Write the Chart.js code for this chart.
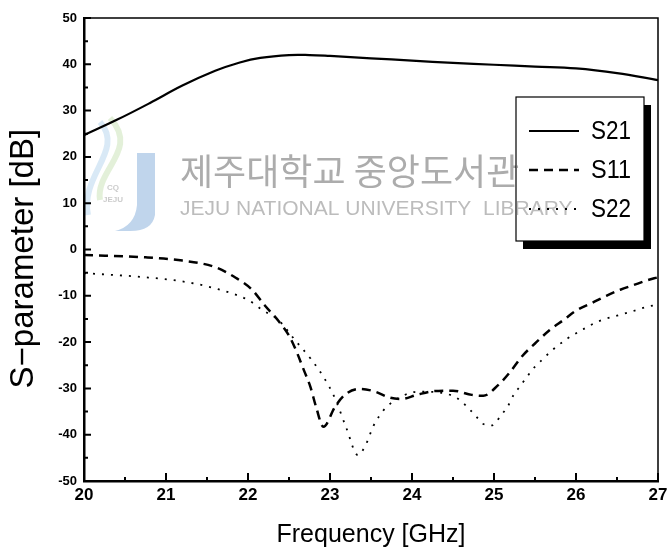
<!DOCTYPE html>
<html>
<head>
<meta charset="utf-8">
<script src="https://cdn.jsdelivr.net/npm/chart.js@4"></script>
<style>
  html, body { margin: 0; padding: 0; background: #fff; }
  canvas { display: block; }
</style>
</head>
<body>
<canvas id="chart" width="672" height="553"></canvas>
<script>
// S21 (dB) - сплошная
const s21Freq = [20.0, 20.4, 20.8, 21.2, 21.6, 21.9, 22.15, 22.5, 22.75, 23.0, 23.5, 24.0, 24.5, 25.0, 25.5, 26.0, 26.5, 27.0];
const s21Val  = [24.7, 28.0, 31.6, 35.4, 38.6, 40.4, 41.4, 42.0, 42.0, 41.8, 41.3, 40.8, 40.3, 39.9, 39.5, 39.1, 38.1, 36.6];

// S11 (dB) - пунктир
const s11Freq = [20.0, 20.75, 21.2, 21.6, 21.85, 22.05, 22.2, 22.37, 22.5, 22.6, 22.68, 22.76, 22.83, 22.92, 23.06, 23.18, 23.37, 23.55, 23.73, 23.87, 24.06, 24.26, 24.5, 24.73, 24.87, 25.05, 25.19, 25.34, 25.5, 25.68, 25.85, 26.0, 26.2, 26.37, 26.54, 26.7, 26.86, 27.0];
const s11Val  = [-1.2, -1.7, -2.4, -3.8, -6.1, -8.7, -12.0, -15.4, -18.6, -22.4, -26.0, -29.6, -34.0, -38.3, -34.0, -31.4, -30.1, -30.7, -32.0, -32.3, -31.4, -30.6, -30.5, -31.4, -31.6, -29.3, -26.6, -23.1, -20.3, -17.4, -15.2, -13.2, -11.5, -10.0, -8.7, -7.7, -6.7, -6.0];

// S22 (dB) - точки
const s22Freq = [20.0, 20.75, 21.2, 21.6, 22.0, 22.18, 22.37, 22.57, 22.76, 22.92, 23.06, 23.2, 23.34, 23.43, 23.53, 23.6, 23.69, 23.89, 24.08, 24.3, 24.48, 24.59, 24.69, 24.78, 24.87, 24.97, 25.09, 25.17, 25.24, 25.32, 25.41, 25.5, 25.6, 25.7, 25.89, 26.09, 26.29, 26.5, 26.68, 26.86, 27.0];
const s22Val  = [-5.1, -6.0, -6.9, -8.4, -10.9, -13.1, -15.2, -19.5, -23.5, -27.5, -32.1, -38.6, -44.4, -42.4, -38.1, -36.0, -34.0, -31.6, -30.7, -30.8, -31.5, -32.6, -34.3, -36.0, -37.7, -38.0, -35.7, -33.8, -31.4, -29.5, -27.3, -25.3, -23.6, -21.9, -19.3, -17.2, -15.4, -14.3, -13.4, -12.4, -11.9];

const seriesNames = ['S21', 'S11', 'S22'];
const xTickLabels = [20, 21, 22, 23, 24, 25, 26, 27];
const yTickLabels = [-50, -40, -30, -20, -10, 0, 10, 20, 30, 40, 50];

function toPoints(xs, ys) {
  return xs.map((x, i) => ({ x: x, y: ys[i] }));
}

// рамка сверху/справа и внутренние засечки
const framePlugin = {
  id: 'frame',
  afterDatasetsDraw(chart) {
    const ctx = chart.ctx;
    const a = chart.chartArea;
    const xs = chart.scales.x, ys = chart.scales.y;
    ctx.save();
    ctx.strokeStyle = '#000';
    ctx.lineWidth = 1.5;
    ctx.beginPath();
    ctx.moveTo(a.left, a.top);
    ctx.lineTo(a.right, a.top);
    ctx.lineTo(a.right, a.bottom);
    ctx.stroke();
    ctx.lineWidth = 2;
    ctx.beginPath();
    xs.ticks.forEach(t => {
      const px = xs.getPixelForValue(t.value);
      const len = xTickLabels.includes(t.value) ? 8 : 4;
      ctx.moveTo(px, a.bottom);
      ctx.lineTo(px, a.bottom - len);
    });
    ys.ticks.forEach(t => {
      const py = ys.getPixelForValue(t.value);
      const len = yTickLabels.includes(t.value) ? 7 : 4;
      ctx.moveTo(a.left, py);
      ctx.lineTo(a.left + len, py);
    });
    ctx.stroke();
    ctx.restore();
  }
};

// легенда в рамке с тенью
const legendBoxPlugin = {
  id: 'legendBox',
  afterDatasetsDraw(chart) {
    const ctx = chart.ctx;
    const a = chart.chartArea;
    const left = a.right - 142, top = a.top + 79, w = 128, h = 144;
    ctx.save();
    ctx.fillStyle = '#000';
    ctx.fillRect(left + 7, top + 8, w, h);
    ctx.fillStyle = '#fff';
    ctx.fillRect(left, top, w, h);
    ctx.strokeStyle = '#000';
    ctx.lineWidth = 1.2;
    ctx.strokeRect(left, top, w, h);
    ctx.font = '25px "Liberation Sans", Arial, sans-serif';
    ctx.textBaseline = 'middle';
    ctx.fillStyle = '#000';
    chart.data.datasets.forEach((ds, i) => {
      const y = top + 34 + i * 39;
      ctx.lineWidth = ds.borderWidth;
      ctx.setLineDash(ds.borderDash || []);
      ctx.beginPath();
      ctx.moveTo(left + 13, y);
      ctx.lineTo(left + 63, y);
      ctx.stroke();
      ctx.setLineDash([]);
      ctx.fillText(ds.label, left + 75, y + 1, 40);
    });
    ctx.restore();
  }
};

// водяной знак библиотеки
const watermarkPlugin = {
  id: 'watermark',
  afterDraw(chart) {
    const ctx = chart.ctx;
    ctx.save();
    ctx.globalCompositeOperation = 'darken';
    // логотип
    ctx.lineWidth = 6;
    ctx.strokeStyle = 'rgba(200,225,180,0.5)';
    ctx.beginPath();
    ctx.moveTo(110, 118);
    ctx.bezierCurveTo(140, 150, 95, 170, 100, 200);
    ctx.stroke();
    ctx.strokeStyle = 'rgba(180,212,238,0.5)';
    ctx.beginPath();
    ctx.moveTo(100, 122);
    ctx.bezierCurveTo(125, 150, 80, 175, 88, 215);
    ctx.stroke();
    ctx.fillStyle = 'rgba(165,195,228,0.7)';
    ctx.beginPath();
    ctx.moveTo(137, 153);
    ctx.lineTo(155, 153);
    ctx.lineTo(155, 215);
    ctx.quadraticCurveTo(152, 232, 128, 231);
    ctx.lineTo(115, 231);
    ctx.quadraticCurveTo(135, 226, 137, 205);
    ctx.closePath();
    ctx.fill();
    ctx.fillStyle = 'rgba(190,190,190,0.8)';
    ctx.font = 'bold 8px "Liberation Sans", sans-serif';
    ctx.textAlign = 'center';
    ctx.fillText('CQ', 113, 190);
    ctx.fillText('JEJU', 113, 202);
    // текст
    ctx.textAlign = 'left';
    ctx.textBaseline = 'middle';
    ctx.fillStyle = '#acacac';
    ctx.font = '36px "Noto Sans CJK KR", sans-serif';
    ctx.fillText('제주대학교 중앙도서관', 180, 171, 373);
    ctx.fillStyle = '#bcbcbc';
    ctx.font = '21px "Liberation Sans", sans-serif';
    ctx.fillText('JEJU NATIONAL UNIVERSITY  LIBRARY', 180, 209, 396);
    ctx.restore();
  }
};

const ctx = document.getElementById('chart').getContext('2d');
new Chart(ctx, {
  type: 'line',
  data: {
    datasets: [
      {
        label: seriesNames[0],
        data: toPoints(s21Freq, s21Val),
        borderColor: '#000',
        borderWidth: 2.2,
        borderDash: [],
        cubicInterpolationMode: 'default',
        tension: 0.4
      },
      {
        label: seriesNames[1],
        data: toPoints(s11Freq, s11Val),
        borderColor: '#000',
        borderWidth: 2.5,
        borderDash: [9, 6],
        cubicInterpolationMode: 'monotone'
      },
      {
        label: seriesNames[2],
        data: toPoints(s22Freq, s22Val),
        borderColor: '#000',
        borderWidth: 1.8,
        borderDash: [2, 7],
        cubicInterpolationMode: 'monotone'
      }
    ]
  },
  options: {
    responsive: false,
    animation: false,
    devicePixelRatio: 1,
    elements: { point: { radius: 0 }, line: { fill: false } },
    layout: { padding: { top: 18, right: 14, left: 0, bottom: 0 } },
    plugins: {
      legend: { display: false },
      tooltip: { enabled: false },
      title: { display: false }
    },
    scales: {
      x: {
        type: 'linear',
        min: 20,
        max: 27,
        afterFit: s => { s.height = 72; },
        grid: { display: false, drawTicks: false },
        border: { display: true, color: '#000', width: 2.5 },
        ticks: {
          stepSize: 0.5,
          autoSkip: false,
          maxRotation: 0,
          padding: 4,
          color: '#000',
          font: { family: '"Liberation Sans", Arial, sans-serif', size: 17, weight: 'bold' },
          callback: v => xTickLabels.includes(v) ? String(v) : ''
        },
        title: {
          display: true,
          text: 'Frequency [GHz]',
          color: '#000',
          padding: { top: 0, bottom: 3 },
          font: { family: '"Liberation Sans", Arial, sans-serif', size: 25 }
        }
      },
      y: {
        min: -50,
        max: 50,
        afterFit: s => { s.width = 84; },
        grid: { display: false, drawTicks: false },
        border: { display: true, color: '#000', width: 2.5 },
        ticks: {
          stepSize: 5,
          autoSkip: false,
          padding: 7,
          color: '#000',
          font: { family: '"Liberation Sans", Arial, sans-serif', size: 13, weight: 'bold' },
          callback: v => yTickLabels.includes(v) ? String(v) : ''
        },
        title: {
          display: true,
          // пробелы в конце немного сдвигают подпись вниз, как в оригинале
          text: 'S\u2212parameter [dB]  ',
          color: '#000',
          padding: { top: 4, bottom: 0 },
          font: { family: '"Liberation Sans", Arial, sans-serif', size: 33 }
        }
      }
    }
  },
  plugins: [framePlugin, legendBoxPlugin, watermarkPlugin]
});
</script>
</body>
</html>
